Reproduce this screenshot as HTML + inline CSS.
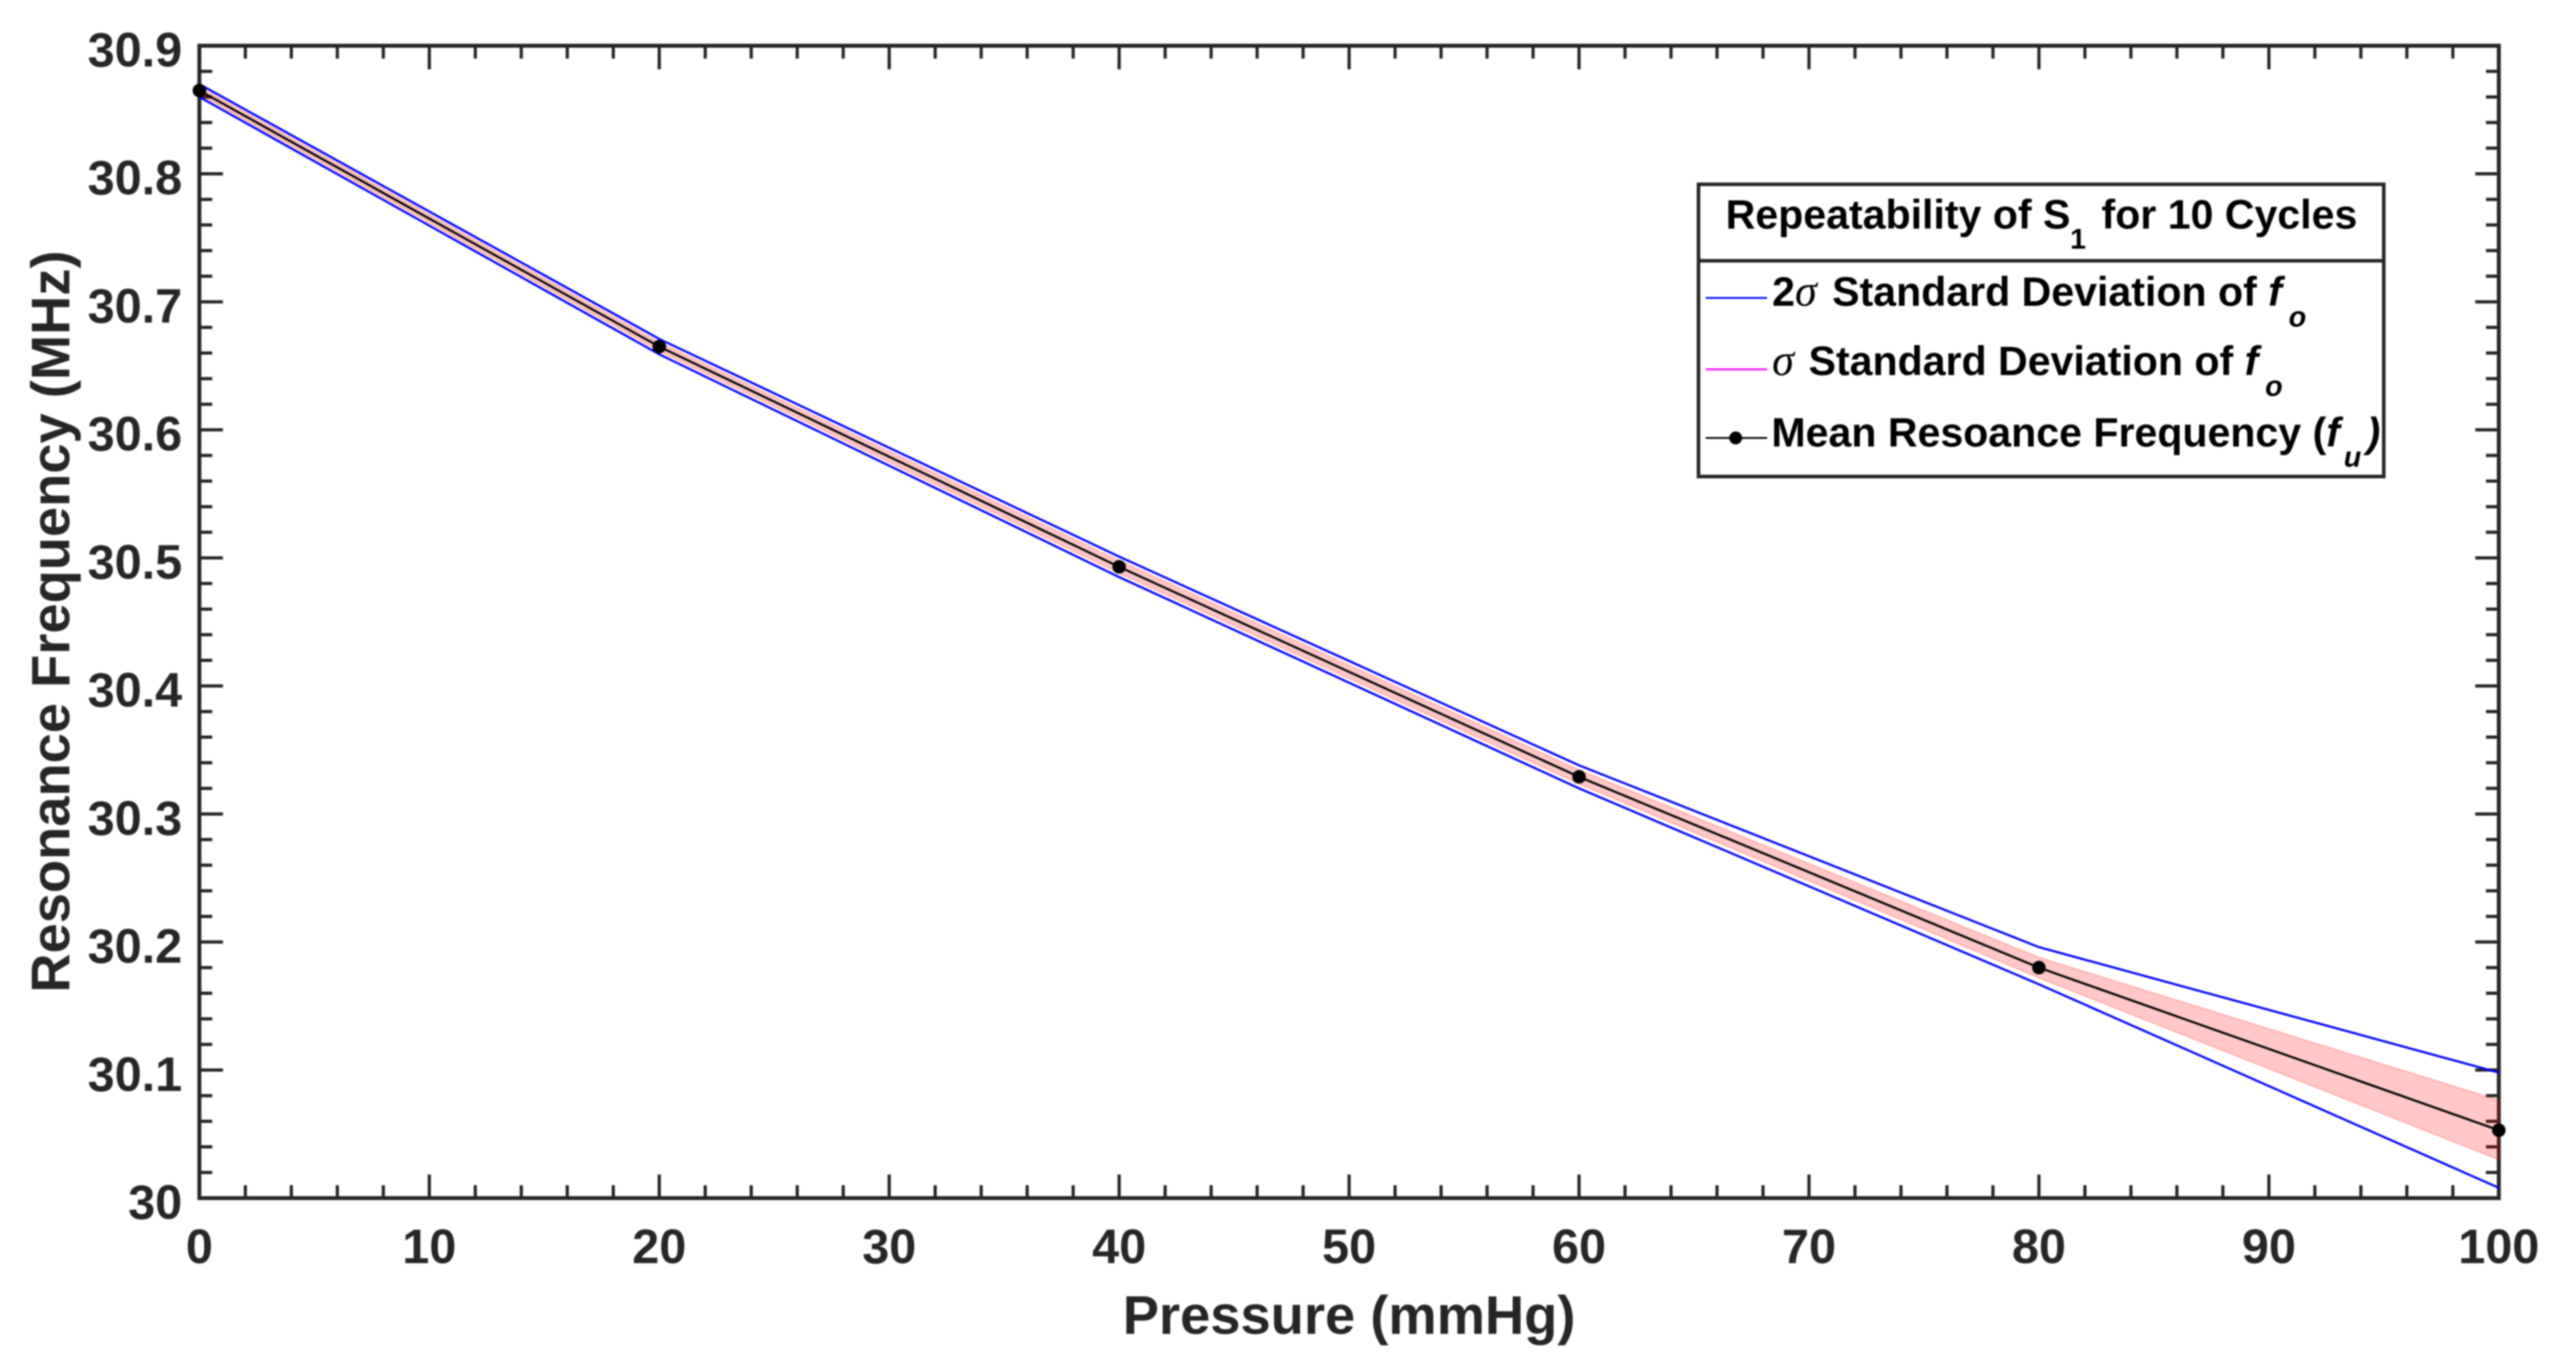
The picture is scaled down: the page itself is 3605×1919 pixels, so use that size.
<!DOCTYPE html>
<html lang="en">
<head>
<meta charset="utf-8">
<title>Repeatability of S1 for 10 Cycles</title>
<style>
  html, body { margin: 0; padding: 0; background: #fff; }
  #chart { display: block; width: 3605px; height: 1919px; filter: blur(1px); }
  text { font-family: "Liberation Sans", sans-serif; font-weight: bold; }
  .tick-label { font-size: 68px; fill: #262626; }
  .axis-title { font-size: 76px; fill: #262626; }
  .legend-text { font-size: 57.5px; fill: #000; }
  .greek { font-family: "Liberation Serif", serif; font-style: italic; font-weight: normal; }
  .ital { font-style: italic; }
  .sub { font-size: 40px; }
</style>
</head>
<body>
<svg id="chart" xmlns="http://www.w3.org/2000/svg" width="3605" height="1919" viewBox="0 0 3605 1919">
  <rect x="0" y="0" width="3605" height="1919" fill="#ffffff"/>
  <g id="axes"></g>
  <g id="series"></g>
  <text class="axis-title" x="1888" y="1867" text-anchor="middle">Pressure (mmHg)</text>
  <text class="axis-title" transform="translate(97 870) rotate(-90)" text-anchor="middle">Resonance Frequency (MHz)</text>
  <g id="legend">
    <rect x="2377" y="258" width="959" height="409" fill="#ffffff" stroke="#262626" stroke-width="5"/>
    <line x1="2377" y1="365" x2="3336" y2="365" stroke="#262626" stroke-width="5"/>
    <text class="legend-text" x="2415" y="320">Repeatability of S</text>
    <text class="legend-text sub" x="2897" y="348">1</text>
    <text class="legend-text" x="2941" y="320">for 10 Cycles</text>

    <line x1="2387" y1="417" x2="2473" y2="417" stroke="#0000ff" stroke-width="2.5"/>
    <text class="legend-text" x="2480" y="428">2<tspan class="greek" font-size="62">σ</tspan></text>
    <text class="legend-text" x="2564" y="428">Standard Deviation of <tspan class="ital">f</tspan></text>
    <text class="legend-text sub ital" x="3203" y="457">o</text>

    <line x1="2387" y1="517" x2="2473" y2="517" stroke="#ff00ff" stroke-width="2.5"/>
    <text class="legend-text" x="2480" y="525"><tspan class="greek" font-size="62">σ</tspan></text>
    <text class="legend-text" x="2531" y="525">Standard Deviation of <tspan class="ital">f</tspan></text>
    <text class="legend-text sub ital" x="3170" y="554">o</text>

    <line x1="2387" y1="613" x2="2473" y2="613" stroke="#000000" stroke-width="2.5"/>
    <circle cx="2429" cy="613" r="9" fill="#000000"/>
    <text class="legend-text" x="2479" y="625">Mean Resoance Frequency (<tspan class="ital">f</tspan></text>
    <text class="legend-text sub ital" x="3280" y="653">u</text>
    <text class="legend-text ital" x="3312" y="625">)</text>
  </g>
</svg>
<script>
const pressures = [0, 20, 40, 60, 80, 100];
const meanFreq = [30.865, 30.665, 30.493, 30.329, 30.180, 30.053];
const upper2Sigma = [30.870, 30.671, 30.501, 30.338, 30.196, 30.098];
const lower2Sigma = [30.860, 30.659, 30.485, 30.320, 30.167, 30.008];
const upperSigma = [30.868, 30.6685, 30.498, 30.3345, 30.188, 30.0765];
const lowerSigma = [30.862, 30.6615, 30.488, 30.3235, 30.172, 30.030];
const xTickValues = [0, 10, 20, 30, 40, 50, 60, 70, 80, 90, 100];
const yTickValues = [30, 30.1, 30.2, 30.3, 30.4, 30.5, 30.6, 30.7, 30.8, 30.9];
const yTickLabels = ["30", "30.1", "30.2", "30.3", "30.4", "30.5", "30.6", "30.7", "30.8", "30.9"];
const xMinorStep = 2;
const yMinorStep = 0.02;

const SVGNS = "http://www.w3.org/2000/svg";
const plot = { left: 279, right: 3497, top: 64, bottom: 1677 };
const xDomain = [0, 100];
const yDomain = [30, 30.9];
const axisColor = "#262626";

function xScale(v) {
  return plot.left + (v - xDomain[0]) / (xDomain[1] - xDomain[0]) * (plot.right - plot.left);
}
function yScale(v) {
  return plot.bottom - (v - yDomain[0]) / (yDomain[1] - yDomain[0]) * (plot.bottom - plot.top);
}
function make(tag, parent, props) {
  const el = document.createElementNS(SVGNS, tag);
  for (const k in props) el.setAttribute(k, props[k]);
  parent.appendChild(el);
  return el;
}
function polyPoints(xs, ys) {
  return xs.map((x, i) => xScale(x).toFixed(2) + "," + yScale(ys[i]).toFixed(2)).join(" ");
}

const axes = document.getElementById("axes");
const series = document.getElementById("series");

const frame = make("rect", axes, {
  x: plot.left, y: plot.top, width: plot.right - plot.left, height: plot.bottom - plot.top,
  fill: "none", stroke: axisColor, "stroke-width": 5.5
});



// Minor ticks on x axis (bottom and top)
for (let i = 0; xDomain[0] + i * xMinorStep <= xDomain[1]; i++) {
  const v = xDomain[0] + i * xMinorStep;
  if (v % 10 === 0) continue;
  const x = xScale(v);
  const tb = make("line", axes, { x1: x, y1: plot.bottom, x2: x, y2: plot.bottom - 18, stroke: axisColor, "stroke-width": 4.5 });
  
  
  const tt = make("line", axes, { x1: x, y1: plot.top, x2: x, y2: plot.top + 18, stroke: axisColor, "stroke-width": 4.5 });
  
  
}
// Minor ticks on y axis (left and right)
for (let i = 0; i <= Math.round((yDomain[1] - yDomain[0]) / yMinorStep); i++) {
  if (i % 5 === 0) continue;
  const y = yScale(yDomain[0] + i * yMinorStep);
  const tl = make("line", axes, { x1: plot.left, y1: y, x2: plot.left + 18, y2: y, stroke: axisColor, "stroke-width": 4.5 });
  
  
  const tr = make("line", axes, { x1: plot.right, y1: y, x2: plot.right - 18, y2: y, stroke: axisColor, "stroke-width": 4.5 });
  
  
}
// Major x ticks and labels
xTickValues.forEach((v) => {
  const x = xScale(v);
  const tb = make("line", axes, { x1: x, y1: plot.bottom, x2: x, y2: plot.bottom - 33, stroke: axisColor, "stroke-width": 4.5 });
  
  
  const tt = make("line", axes, { x1: x, y1: plot.top, x2: x, y2: plot.top + 33, stroke: axisColor, "stroke-width": 4.5 });
  
  
  const label = make("text", axes, { x: x, y: 1768, "text-anchor": "middle", class: "tick-label" });
  label.textContent = String(v);
  
  
});
// Major y ticks and labels
yTickValues.forEach((v, i) => {
  const y = yScale(v);
  const tl = make("line", axes, { x1: plot.left, y1: y, x2: plot.left + 33, y2: y, stroke: axisColor, "stroke-width": 4.5 });
  
  
  const tr = make("line", axes, { x1: plot.right, y1: y, x2: plot.right - 33, y2: y, stroke: axisColor, "stroke-width": 4.5 });
  
  
  const label = make("text", axes, { x: 255, y: y + 29, "text-anchor": "end", class: "tick-label" });
  label.textContent = yTickLabels[i];
  
  
});

// Sigma band
const bandPts = polyPoints(pressures, upperSigma) + " " +
  polyPoints(pressures.slice().reverse(), lowerSigma.slice().reverse());
const band = make("polygon", series, {
  points: bandPts, fill: "rgba(255,0,0,0.22)", stroke: "rgba(255,0,0,0.2)", "stroke-width": 2
});



// 2 sigma lines
const up2 = make("polyline", series, { points: polyPoints(pressures, upper2Sigma), fill: "none", stroke: "#0000ff", "stroke-width": 3 });


const lo2 = make("polyline", series, { points: polyPoints(pressures, lower2Sigma), fill: "none", stroke: "#0000ff", "stroke-width": 3 });



// Mean line and markers
const meanLine = make("polyline", series, { points: polyPoints(pressures, meanFreq), fill: "none", stroke: "#000000", "stroke-width": 3 });


pressures.forEach((p, i) => {
  const dot = make("circle", series, { cx: xScale(p), cy: yScale(meanFreq[i]), r: 9.5, fill: "#000000" });
  
  
});
</script>
</body>
</html>
